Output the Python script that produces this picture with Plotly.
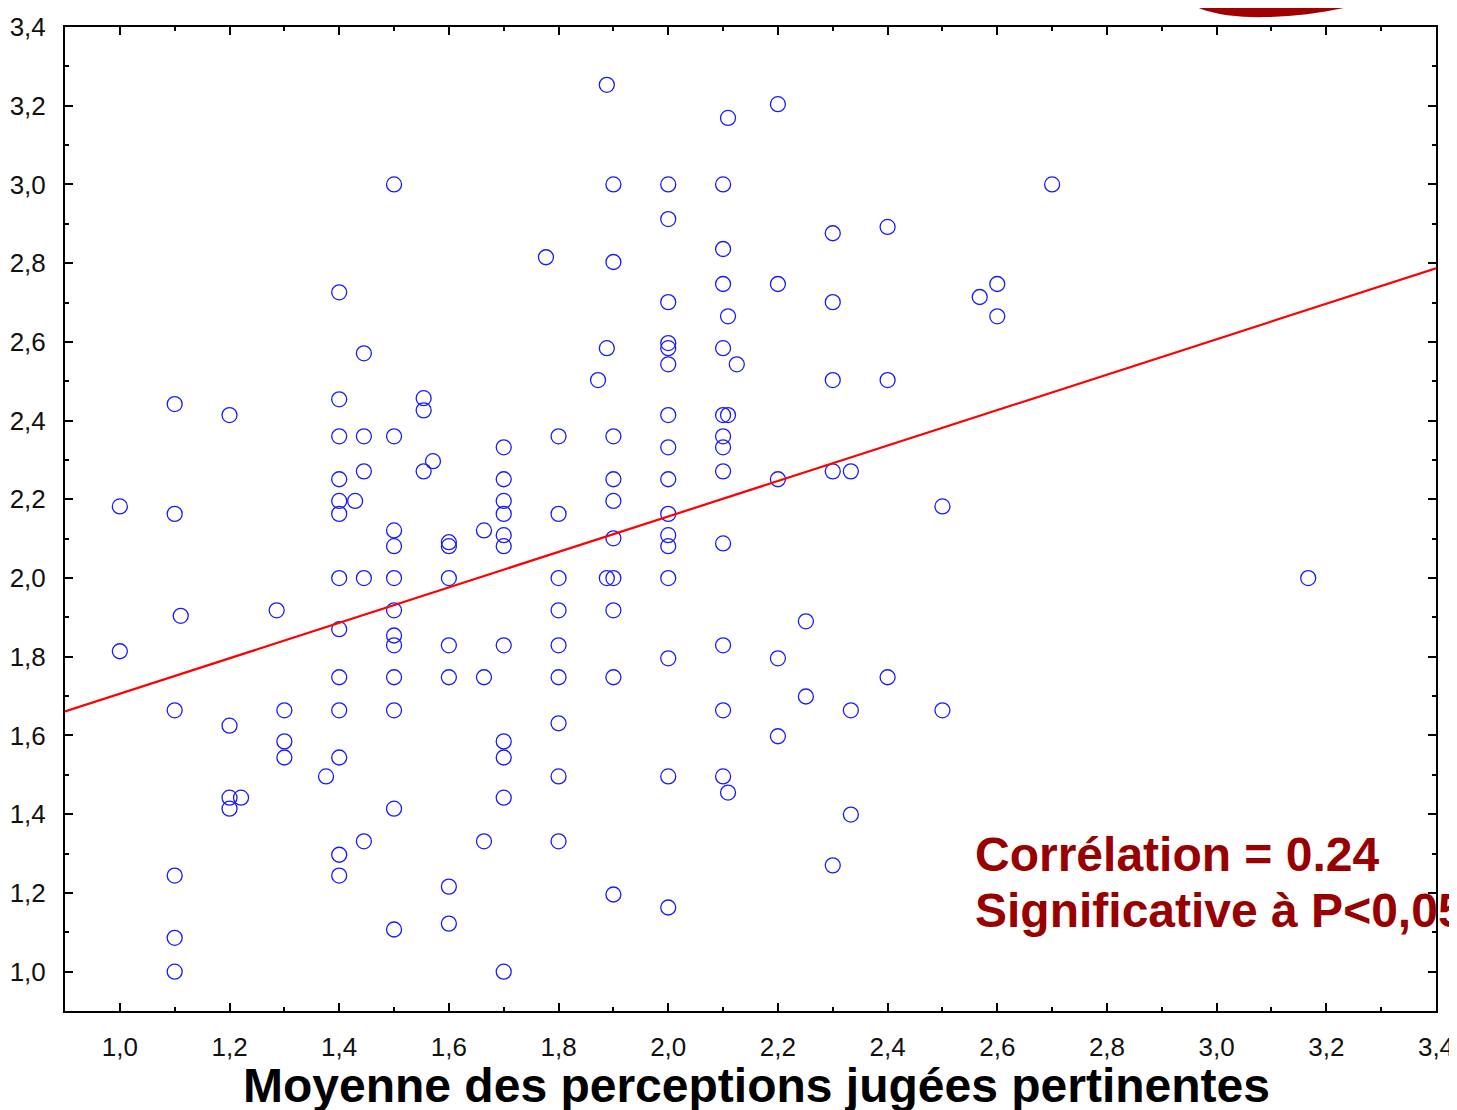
import plotly.graph_objects as go

# ---- data ----
x_values = [
    1.0, 1.0,
    1.1, 1.1, 1.1, 1.1, 1.1, 1.1,
    1.111,
    1.2, 1.2, 1.2, 1.2,
    1.221,
    1.286,
    1.3, 1.3, 1.3,
    1.376,
    1.4, 1.4, 1.4, 1.4, 1.4, 1.4, 1.4, 1.4, 1.4, 1.4, 1.4, 1.4, 1.4,
    1.429,
    1.445, 1.445, 1.445, 1.445, 1.445,
    1.5, 1.5, 1.5, 1.5, 1.5, 1.5, 1.5, 1.5, 1.5, 1.5, 1.5, 1.5,
    1.554, 1.554, 1.554,
    1.571,
    1.6, 1.6, 1.6, 1.6, 1.6, 1.6, 1.6,
    1.664, 1.664, 1.664,
    1.7, 1.7, 1.7, 1.7, 1.7, 1.7, 1.7, 1.7, 1.7, 1.7, 1.7,
    1.777,
    1.8, 1.8, 1.8, 1.8, 1.8, 1.8, 1.8, 1.8, 1.8,
    1.872,
    1.888, 1.888, 1.888,
    1.9, 1.9, 1.9, 1.9, 1.9, 1.9, 1.9, 1.9, 1.9, 1.9,
    2.0, 2.0, 2.0, 2.0, 2.0, 2.0, 2.0, 2.0, 2.0, 2.0, 2.0, 2.0, 2.0, 2.0, 2.0, 2.0,
    2.1, 2.1, 2.1, 2.1, 2.1, 2.1, 2.1, 2.1, 2.1, 2.1, 2.1, 2.1,
    2.109, 2.109, 2.109, 2.109,
    2.125,
    2.2, 2.2, 2.2, 2.2, 2.2,
    2.251, 2.251,
    2.3, 2.3, 2.3, 2.3, 2.3,
    2.333, 2.333, 2.333,
    2.4, 2.4, 2.4,
    2.5, 2.5,
    2.568,
    2.6, 2.6,
    2.7,
    3.167,
]
y_values = [
    2.182, 1.814,
    2.442, 2.163, 1.664, 1.244, 1.086, 1.0,
    1.904,
    2.414, 1.625, 1.442, 1.414,
    1.442,
    1.918,
    1.664, 1.585, 1.544,
    1.496,
    2.726, 2.454, 2.360, 2.251, 2.196, 2.163, 2.0, 1.870, 1.748, 1.664, 1.544, 1.297, 1.244,
    2.196,
    2.571, 2.360, 2.271, 2.0, 1.331,
    3.0, 2.360, 2.121, 2.081, 2.0, 1.918, 1.854, 1.829, 1.748, 1.664, 1.414, 1.107,
    2.457, 2.426, 2.271,
    2.297,
    2.091, 2.081, 2.0, 1.829, 1.748, 1.216, 1.122,
    2.121, 1.748, 1.331,
    2.332, 2.251, 2.196, 2.163, 2.109, 2.081, 1.829, 1.585, 1.544, 1.442, 1.0,
    2.815,
    2.360, 2.163, 2.0, 1.918, 1.829, 1.748, 1.631, 1.496, 1.331,
    2.503,
    3.253, 2.584, 2.0,
    3.0, 2.803, 2.360, 2.251, 2.196, 2.101, 2.0, 1.918, 1.748, 1.196,
    3.0, 2.912, 2.701, 2.597, 2.584, 2.543, 2.414, 2.332, 2.251, 2.163, 2.109, 2.081, 2.0, 1.796, 1.496, 1.163,
    3.0, 2.836, 2.747, 2.584, 2.414, 2.360, 2.332, 2.271, 2.088, 1.829, 1.664, 1.496,
    3.169, 2.665, 2.414, 1.455,
    2.543,
    3.204, 2.747, 2.251, 1.796, 1.598,
    1.890, 1.699,
    2.876, 2.701, 2.503, 2.271, 1.270,
    2.271, 1.664, 1.399,
    2.892, 2.503, 1.748,
    2.182, 1.664,
    2.714,
    2.747, 2.665,
    3.0,
    2.0,
]

fit_x = [0.9, 3.4]
fit_y = [1.661, 2.787]

tick_vals = [1.0, 1.2, 1.4, 1.6, 1.8, 2.0, 2.2, 2.4, 2.6, 2.8, 3.0, 3.2, 3.4]
tick_text = ["1,0", "1,2", "1,4", "1,6", "1,8", "2,0", "2,2", "2,4", "2,6", "2,8", "3,0", "3,2", "3,4"]

x_title = "Moyenne des perceptions jugées pertinentes"
note_lines = ["Corrélation = 0.24", "Significative à P<0,05"]

# ---- figure ----
OFF = 8  # page body margin
W, H = 1457 - OFF, 1110 - OFF
# plot-area edges in page pixels
L, R, T, B = 65, 1436, 27, 1011

def px_x(px):
    return (px - L) / (R - L)

def px_y(py):
    return (B - py) / (B - T)

def pt(px, py):
    return f"{px_x(px):.5f},{px_y(py):.5f}"

fig = go.Figure()
fig.add_trace(go.Scatter(
    x=x_values, y=y_values, mode="markers",
    marker=dict(symbol="circle-open", size=15, color="#1a1aff", line=dict(width=1.3, color="#1a1aff")),
    showlegend=False, hoverinfo="x+y",
))
fig.add_trace(go.Scatter(
    x=fit_x, y=fit_y, mode="lines",
    line=dict(color="#ff0000", width=2.2), showlegend=False,
))

tick_font = dict(family="Liberation Sans Narrow, Arial Narrow, Liberation Sans, Arial", size=26, color="#111111")
axis_common = dict(
    range=[0.9, 3.4], tickmode="array", tickvals=tick_vals, ticktext=tick_text,
    ticks="inside", ticklen=8, tickwidth=2, tickcolor="black",
    showline=True, linecolor="black", linewidth=2, mirror="allticks",
    showgrid=False, zeroline=False, tickfont=tick_font, automargin=False,
    minor=dict(ticks="inside", ticklen=4, tickwidth=1.5, tickcolor="black", dtick=0.1, tick0=0.9, showgrid=False),
)

fig.update_layout(
    width=W, height=H,
    margin=dict(l=L - OFF, r=W - (R - OFF), t=T - OFF, b=H - (B - OFF), autoexpand=False),
    paper_bgcolor="white", plot_bgcolor="white",
    xaxis=dict(**axis_common, ticklabelstandoff=12),
    yaxis=dict(**axis_common, ticklabelstandoff=12),
    showlegend=False,
)

# axis title (bold, large)
fig.add_annotation(
    x=px_x(756), y=px_y(1085), xref="paper", yref="paper",
    text="<b>" + x_title + "</b>", showarrow=False,
    xanchor="center", yanchor="middle",
    font=dict(family="Liberation Sans, Arial", size=48, color="black"),
)

# correlation note
fig.add_annotation(
    x=px_x(973), y=px_y(854), xref="paper", yref="paper",
    text="<b>" + note_lines[0] + "</b>", showarrow=False,
    xanchor="left", yanchor="middle",
    font=dict(family="Liberation Sans, Arial", size=48, color="#990000"),
)
fig.add_annotation(
    x=px_x(973), y=px_y(910), xref="paper", yref="paper",
    text="<b>" + note_lines[1] + "</b>", showarrow=False,
    xanchor="left", yanchor="middle",
    font=dict(family="Liberation Sans, Arial", size=48, color="#990000"),
)

# partial red logo blob at the top-right edge
blob = (f"M {pt(1178, -6)} C {pt(1195, 14)} {pt(1235, 18)} {pt(1268, 17)} "
        f"C {pt(1310, 16)} {pt(1355, 8)} {pt(1392, -6)} Z")
fig.add_shape(type="path", xref="paper", yref="paper", path=blob,
              fillcolor="#a00000", line=dict(width=0), layer="above")
tip = f"M {pt(1438, -6)} L {pt(1460, -6)} L {pt(1460, 2)} L {pt(1446, 4)} Z"
fig.add_shape(type="path", xref="paper", yref="paper", path=tip,
              fillcolor="#b00000", line=dict(width=0), layer="above")

fig.write_html("out.html")
